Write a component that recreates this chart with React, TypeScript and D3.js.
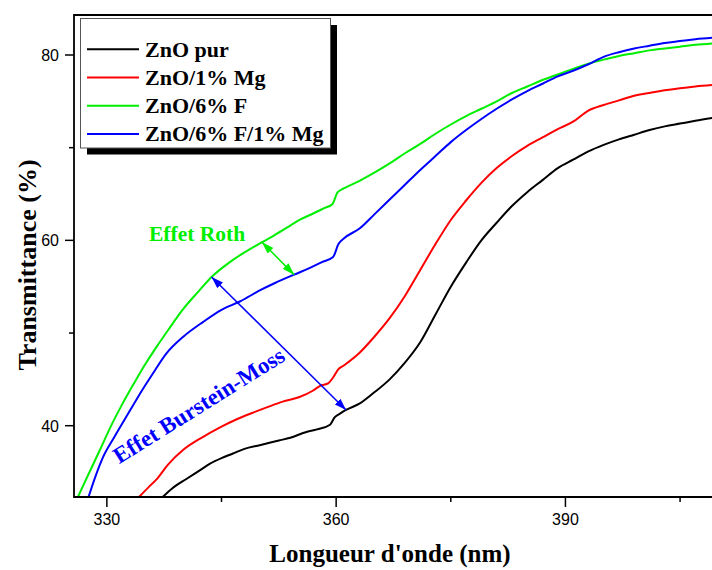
import React, { useEffect, useRef } from 'react';
import * as d3 from 'd3';

// ZnO pur
const pureNm = [337.3, 338.5, 340.5, 342, 343.5, 345, 346.5, 348, 350, 352.5, 354, 356, 357.5, 359.2, 359.8, 360.5, 361.3, 363.1, 365, 367, 369, 371, 373, 375, 377, 379, 381, 383, 385, 387, 389, 391, 393, 395, 397, 399, 401, 403, 405, 407, 410];
const pureT = [32.3, 33.2, 34.3, 35.1, 35.9, 36.5, 37.0, 37.5, 37.9, 38.4, 38.7, 39.3, 39.6, 40.1, 40.9, 41.3, 41.7, 42.4, 43.6, 45.0, 46.8, 49.0, 52.0, 55.0, 57.6, 60.0, 61.9, 63.7, 65.2, 66.5, 67.8, 68.7, 69.6, 70.3, 70.9, 71.4, 71.9, 72.3, 72.6, 72.9, 73.3];

// ZnO/1% Mg
const mgNm = [334.2, 335.5, 336.5, 338, 340, 342.6, 345, 347, 349.1, 351, 353, 355.2, 357, 357.9, 359, 359.6, 360.3, 361, 363.1, 365, 367, 369, 371, 373, 375, 377, 379, 381, 383, 385, 387, 389, 391, 393, 395, 397, 399, 401, 403, 405, 407, 410];
const mgT = [32.3, 33.4, 34.2, 35.8, 37.4, 38.8, 39.9, 40.7, 41.4, 42.0, 42.6, 43.1, 43.8, 44.3, 44.6, 45.2, 46.1, 46.5, 47.9, 49.6, 51.6, 54.0, 56.8, 59.6, 62.2, 64.3, 66.2, 67.8, 69.1, 70.2, 71.1, 72.0, 72.8, 74.0, 74.6, 75.1, 75.6, 75.9, 76.2, 76.4, 76.6, 76.8];

// ZnO/6% F
const fNm = [326.2, 327.5, 329.1, 330.5, 332, 333.5, 335, 336.5, 338, 340, 342, 343.7, 346, 348, 350.3, 352, 354, 355.2, 357, 358.5, 359.5, 360.2, 361, 363, 365, 367, 369, 371, 373, 375, 377, 379, 381, 383, 385, 387, 389, 391, 393, 395, 397, 399, 401, 403, 405, 407, 410];
const fT = [32.3, 34.6, 37.4, 39.9, 42.3, 44.5, 46.6, 48.5, 50.3, 52.6, 54.5, 56.05, 57.6, 58.7, 59.8, 60.6, 61.6, 62.2, 62.9, 63.5, 63.9, 65.2, 65.6, 66.4, 67.3, 68.3, 69.4, 70.4, 71.5, 72.5, 73.4, 74.2, 75.0, 75.9, 76.6, 77.3, 77.9, 78.5, 79.05, 79.5, 79.9, 80.2, 80.5, 80.7, 80.9, 81.1, 81.3];

// ZnO/6% F/1% Mg
const fmgNm = [327.6, 328.5, 329.5, 331, 332.5, 334, 336, 337.8, 340, 342.6, 345, 347.4, 350, 352, 354.5, 356.5, 358, 359.6, 360.3, 361, 363.1, 365, 367, 369, 371, 373, 375, 377, 379, 381, 383, 385, 387, 389, 391, 393, 395, 397, 399, 401, 403, 405, 407, 410];
const fmgT = [32.3, 34.5, 36.6, 38.8, 40.9, 43.0, 45.6, 47.8, 49.6, 51.2, 52.5, 53.4, 54.6, 55.4, 56.3, 57.0, 57.6, 58.2, 59.6, 60.2, 61.3, 62.8, 64.4, 66.0, 67.6, 69.1, 70.6, 71.9, 73.1, 74.2, 75.2, 76.1, 76.9, 77.7, 78.3, 79.0, 79.8, 80.3, 80.7, 81.0, 81.3, 81.5, 81.7, 81.9];

const seriesNames = ['ZnO pur', 'ZnO/1% Mg', 'ZnO/6% F', 'ZnO/6% F/1% Mg'];
const seriesColors = ['#000000', '#ff0000', '#00ee00', '#0000ff'];
const xMajorTicks = [330, 360, 390];
const xMinorTicks = [345, 375, 405];
const yMajorTicks = [40, 60, 80];
const yMinorTicks = [50, 70];

// annotation arrows [nm, T] -> [nm, T]
const rothArrow = [[350.3, 59.8], [354.5, 56.3]];
const bmArrow = [[343.7, 56.05], [361.3, 41.7]];

const W = 712;
const H = 570;
const left = 74;
const top = 15;
const right = 716;
const bottom = 497;

const serif = "'Liberation Serif', 'Times New Roman', serif";
const sans = "'Liberation Sans', Arial, sans-serif";

const App = () => {
  const ref = useRef<SVGSVGElement | null>(null);

  useEffect(() => {
    const svg = d3.select(ref.current);
    svg.selectAll('*').remove();

    const x = d3.scaleLinear().domain([325.7, 409.7]).range([left, right]);
    const y = d3.scaleLinear().domain([40, 80]).range([425.7, 55]);

    const defs = svg.append('defs');
    defs.append('clipPath').attr('id', 'plot')
      .append('rect').attr('x', left).attr('y', top)
      .attr('width', right - left).attr('height', bottom - top);

    ['green', 'blue'].forEach((k) => {
      defs.append('marker')
        .attr('id', 'arr-' + k)
        .attr('viewBox', '0 0 12 8')
        .attr('refX', 12).attr('refY', 4)
        .attr('markerWidth', 12).attr('markerHeight', 8)
        .attr('markerUnits', 'userSpaceOnUse')
        .attr('orient', 'auto-start-reverse')
        .append('path').attr('d', 'M0,0 L12,4 L0,8 Z')
        .attr('fill', k === 'green' ? '#00ee00' : '#0000ff');
    });

    const series = [
      [pureNm, pureT], [mgNm, mgT], [fNm, fT], [fmgNm, fmgT],
    ];

    const line = d3.line<[number, number]>()
      .x(d => x(d[0]))
      .y(d => y(d[1]))
      .curve(d3.curveMonotoneX);

    const g = svg.append('g').attr('clip-path', 'url(#plot)');
    series.forEach(([nm, t], i) => {
      const pts = nm.map((v, j) => [v, t[j]] as [number, number]);
      g.append('path')
        .attr('d', line(pts))
        .attr('fill', 'none')
        .attr('stroke', seriesColors[i])
        .attr('stroke-width', 2);
    });

    // frame
    svg.append('path')
      .attr('d', `M${right},${top} L${left},${top} L${left},${bottom} L${right},${bottom}`)
      .attr('fill', 'none').attr('stroke', '#000').attr('stroke-width', 1.8);

    // x ticks
    xMajorTicks.forEach(v => {
      svg.append('line').attr('x1', x(v)).attr('x2', x(v))
        .attr('y1', bottom).attr('y2', bottom + 10)
        .attr('stroke', '#000').attr('stroke-width', 1.5);
      svg.append('text').attr('x', x(v)).attr('y', bottom + 28)
        .attr('text-anchor', 'middle')
        .style('font-family', sans).style('font-size', '16px')
        .text(v);
    });
    xMinorTicks.forEach(v => {
      svg.append('line').attr('x1', x(v)).attr('x2', x(v))
        .attr('y1', bottom).attr('y2', bottom + 5)
        .attr('stroke', '#000').attr('stroke-width', 1.5);
    });

    // y ticks
    yMajorTicks.forEach(v => {
      svg.append('line').attr('x1', left - 9).attr('x2', left)
        .attr('y1', y(v)).attr('y2', y(v))
        .attr('stroke', '#000').attr('stroke-width', 1.5);
      svg.append('text').attr('x', left - 15).attr('y', y(v) + 6)
        .attr('text-anchor', 'end')
        .style('font-family', sans).style('font-size', '16px')
        .text(v);
    });
    yMinorTicks.forEach(v => {
      svg.append('line').attr('x1', left - 5).attr('x2', left)
        .attr('y1', y(v)).attr('y2', y(v))
        .attr('stroke', '#000').attr('stroke-width', 1.5);
    });

    // axis titles
    svg.append('text')
      .attr('x', (left + right) / 2 - 5).attr('y', 562)
      .attr('text-anchor', 'middle')
      .style('font-family', serif).style('font-size', '25px').style('font-weight', 'bold')
      .text("Longueur d'onde (nm)");
    svg.append('text')
      .attr('transform', `translate(36,265) rotate(-90)`)
      .attr('text-anchor', 'middle')
      .style('font-family', serif).style('font-size', '26px').style('font-weight', 'bold')
      .text('Transmittance (%)');

    // legend
    const lg = svg.append('g');
    lg.append('rect').attr('x', 87).attr('y', 25).attr('width', 250).attr('height', 129.5)
      .attr('fill', '#000');
    lg.append('rect').attr('x', 80.5).attr('y', 18.5).attr('width', 250).attr('height', 129.5)
      .attr('fill', '#fff').attr('stroke', '#555').attr('stroke-width', 1);
    seriesNames.forEach((name, i) => {
      const ry = 49.3 + i * 28.2;
      lg.append('line').attr('x1', 87).attr('x2', 139).attr('y1', ry).attr('y2', ry)
        .attr('stroke', seriesColors[i]).attr('stroke-width', 2);
      lg.append('text').attr('x', 145).attr('y', ry + 7.5)
        .style('font-family', serif).style('font-size', '22px').style('font-weight', 'bold')
        .text(name);
    });

    // annotations
    svg.append('line')
      .attr('x1', x(rothArrow[0][0])).attr('y1', y(rothArrow[0][1]))
      .attr('x2', x(rothArrow[1][0])).attr('y2', y(rothArrow[1][1]))
      .attr('stroke', '#00ee00').attr('stroke-width', 1.5)
      .attr('marker-start', 'url(#arr-green)').attr('marker-end', 'url(#arr-green)');
    svg.append('line')
      .attr('x1', x(bmArrow[0][0])).attr('y1', y(bmArrow[0][1]))
      .attr('x2', x(bmArrow[1][0])).attr('y2', y(bmArrow[1][1]))
      .attr('stroke', '#0000ff').attr('stroke-width', 1.5)
      .attr('marker-start', 'url(#arr-blue)').attr('marker-end', 'url(#arr-blue)');

    svg.append('text').attr('x', 149).attr('y', 241)
      .style('font-family', serif).style('font-size', '21.5px').style('font-weight', 'bold')
      .style('fill', '#00ee00')
      .text('Effet Roth');
    svg.append('text')
      .attr('transform', 'translate(203,412) rotate(-32)')
      .attr('text-anchor', 'middle')
      .style('font-family', serif).style('font-size', '23px').style('font-weight', 'bold')
      .style('fill', '#0000ff')
      .text('Effet Burstein-Moss');
  }, []);

  return (
    <svg ref={ref} width={W} height={H}
      style={{ position: 'absolute', left: 0, top: 0, background: '#fff' }} />
  );
};

export default App;
